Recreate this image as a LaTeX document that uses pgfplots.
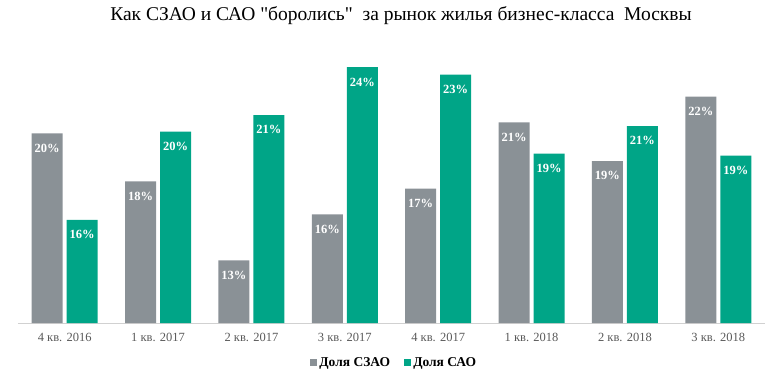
\documentclass[border=0pt]{standalone}
\usepackage{pgfplots}
\pgfplotsset{compat=1.18}
\usepackage{pgfplotstable}
\usepackage{fontspec}
\setmainfont{Liberation Serif}
\newfontfamily\titlefont{Liberation Serif}[Ligatures=TeXOff]
\definecolor{cgray}{HTML}{8A9196}
\definecolor{cteal}{HTML}{00A587}
\definecolor{ctick}{HTML}{595959}
\pgfplotstableread{
x y lbl
0 20.3 20\%
1 17.7 18\%
2 13.4 13\%
3 15.9 16\%
4 17.3 17\%
5 20.9 21\%
6 18.8 19\%
7 22.3 22\%
}\szao
\pgfplotstableread{
x y lbl
0 15.6 16\%
1 20.4 20\%
2 21.3 21\%
3 23.9 24\%
4 23.5 23\%
5 19.2 19\%
6 20.7 21\%
7 19.1 19\%
}\sao
\begin{document}
\begin{tikzpicture}
\useasboundingbox (-18pt,-53pt) rectangle (751pt,323pt);
\begin{axis}[
  at={(0pt,0pt)}, anchor=south west,
  scale only axis, width=747pt, height=276pt,
  xmin=-0.5, xmax=7.5, ymin=10, ymax=25,
  axis x line*=bottom, axis y line=none,
  x axis line style={draw=black!18, line width=0.8pt},
  xtick={0,...,7},
  xticklabels={4 кв. 2016,1 кв. 2017,2 кв. 2017,3 кв. 2017,4 кв. 2017,1 кв. 2018,2 кв. 2018,3 кв. 2018},
  xticklabel style={font=\fontsize{12.5}{14}\selectfont, text=ctick, yshift=-7pt},
  major tick length=0pt,
  ybar, bar width=31pt,
  nodes near coords,
  point meta=explicit symbolic,
  every node near coord/.append style={anchor=north, yshift=-7pt, text=white, font=\bfseries\fontsize{12.5}{14}\selectfont},
  clip=false,
]
\addplot[fill=cgray, draw=none, bar shift=-17.5pt] table[x=x, y=y, meta=lbl] {\szao};
\addplot[fill=cteal, draw=none, bar shift=17.5pt] table[x=x, y=y, meta=lbl] {\sao};
\end{axis}
\node[font=\titlefont\fontsize{19.5}{23}\selectfont] at (383pt,307pt) {Как СЗАО и САО "боролись" \ за рынок жилья бизнес-класса \ Москвы};
\node[anchor=west, font=\bfseries\fontsize{13.5}{15}\selectfont, inner sep=0pt] at (292pt,-40pt)
  {\textcolor{cgray}{\rule{7pt}{7pt}}\,Доля СЗАО\hspace{14pt}\textcolor{cteal}{\rule{7pt}{7pt}}\,Доля САО};
\end{tikzpicture}
\end{document}
